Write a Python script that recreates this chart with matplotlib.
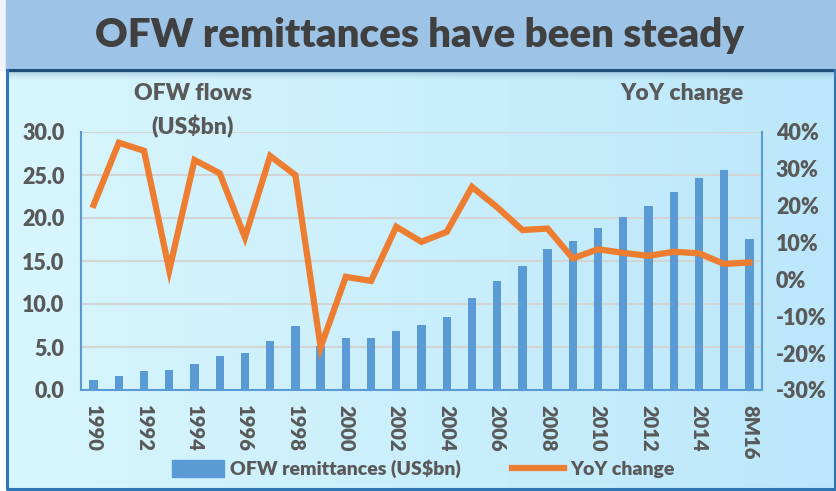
import matplotlib.pyplot as plt
import numpy as np
from matplotlib.patches import Rectangle
from matplotlib.lines import Line2D
from matplotlib.ticker import FuncFormatter

years = ['1990', '1991', '1992', '1993', '1994', '1995', '1996', '1997', '1998',
         '1999', '2000', '2001', '2002', '2003', '2004', '2005', '2006', '2007',
         '2008', '2009', '2010', '2011', '2012', '2013', '2014', '2015', '8M16']

# OFW remittances, US$bn
remit = [1.2, 1.6, 2.2, 2.3, 3.0, 3.9, 4.3, 5.7, 7.4,
         5.1, 6.0, 6.0, 6.9, 7.6, 8.5, 10.7, 12.7, 14.4,
         16.4, 17.3, 18.8, 20.1, 21.4, 23.0, 24.6, 25.6, 17.6]

# year-on-year change, %
yoy = [20.2, 37.1, 34.9, 2.5, 32.4, 28.8, 11.4, 33.5, 28.3,
       -18.4, 0.7, -0.4, 14.3, 10.2, 12.9, 25.1, 19.6, 13.4,
       13.8, 5.7, 8.2, 7.2, 6.4, 7.5, 7.1, 4.2, 4.6]

tick_labels = [y if i % 2 == 0 else '' for i, y in enumerate(years)]

plt.rcParams['font.family'] = ['Lato', 'DejaVu Sans']
W = 'heavy'
grey = '#595959'
blue = '#5b9bd5'
orange = '#ed7d31'

fig = plt.figure(figsize=(8.37, 4.91), dpi=100)

# background: gradient panel, title band and frame
bg = fig.add_axes([0, 0, 1, 1])
bg.set_xlim(0, 837)
bg.set_ylim(491, 0)
bg.axis('off')
left_c = np.array([216, 246, 253]) / 255
right_c = np.array([188, 231, 250]) / 255
t = np.linspace(0, 1, 256)
grad = (left_c[None, :] * (1 - t[:, None]) + right_c[None, :] * t[:, None])[None, :, :]
bg.imshow(grad, extent=[7, 835, 489, 70], aspect='auto', zorder=0)
bg.add_patch(Rectangle((0, 0), 837, 70, color='#f0f4f8', zorder=1))
bg.add_patch(Rectangle((6, 0), 831, 70, color='#9dc3e6', zorder=1))
for i, a in enumerate([0.25, 0.15, 0.08, 0.04]):
    bg.add_patch(Rectangle((7, 71 + i * 2), 828, 2, color='#1f4e79', alpha=a, lw=0, zorder=2))
bg.plot([7, 835], [70, 70], color='#1f4e79', lw=2.2, zorder=3)
bg.plot([7, 7, 835, 835], [70, 489, 489, 70], color='#2e75b6', lw=2.2, zorder=3)
bg.text(420, 35, 'OFW remittances have been steady', ha='center', va='center',
        fontsize=29, fontweight=W, color='#404040', zorder=4)

ax = fig.add_axes([81 / 837, 101 / 491, 681 / 837, 258 / 491])
ax.patch.set_alpha(0)
x = np.arange(len(years))
ax.bar(x, remit, width=0.33, color=blue, zorder=2)
ax.set_xlim(-0.5, len(years) - 0.5)
ax.set_ylim(0, 30)
ax.set_yticks(np.arange(0, 30.1, 5))
ax.yaxis.set_major_formatter(FuncFormatter(lambda v, p: f'{v:.1f}'))
ax.grid(axis='y', color='#d4d4d4', lw=1.5, zorder=1)
ax.set_xticks(x)
ax.set_xticklabels(tick_labels, rotation=270, fontsize=14.5, fontweight=W, color=grey)
ax.tick_params(axis='x', length=0, pad=11)
ax.tick_params(axis='y', length=0, pad=12, labelsize=15.5, labelcolor=grey)
for lab in ax.get_yticklabels():
    lab.set_fontweight(W)
for s in ['left', 'bottom', 'right']:
    ax.spines[s].set_color(blue)
    ax.spines[s].set_linewidth(1.5)
ax.spines['top'].set_visible(False)

ax2 = ax.twinx()
ax2.plot(x, yoy, color=orange, lw=4.5, solid_joinstyle='miter', zorder=3)
ax2.set_ylim(-30, 40)
ax2.set_yticks(np.arange(-30, 41, 10))
ax2.yaxis.set_major_formatter(FuncFormatter(lambda v, p: f'{v:.0f}%'))
ax2.tick_params(axis='y', length=0, pad=10, labelsize=15.5, labelcolor=grey)
for lab in ax2.get_yticklabels():
    lab.set_fontweight(W)
for s in ax2.spines.values():
    s.set_visible(False)

fig.text(193 / 837, 1 - 94 / 491, 'OFW flows', ha='center', va='center',
         fontsize=16.5, fontweight=W, color=grey)
fig.text(193 / 837, 1 - 127 / 491, '(US$bn)', ha='center', va='center',
         fontsize=16.5, fontweight=W, color=grey)
fig.text(682 / 837, 1 - 94 / 491, 'YoY change', ha='center', va='center',
         fontsize=16.5, fontweight=W, color=grey)

handles = [Rectangle((0, 0), 1, 1, color=blue),
           Line2D([0], [0], color=orange, lw=4.5)]
fig.legend(handles, ['OFW remittances (US$bn)', 'YoY change'], loc='center',
           bbox_to_anchor=(423 / 837, 1 - 469 / 491), ncol=2, frameon=False,
           prop={'size': 14, 'weight': W}, labelcolor=grey,
           handlelength=2.7, handleheight=0.9, handletextpad=0.3, columnspacing=2.6)

fig.savefig('out.png', dpi=100)
